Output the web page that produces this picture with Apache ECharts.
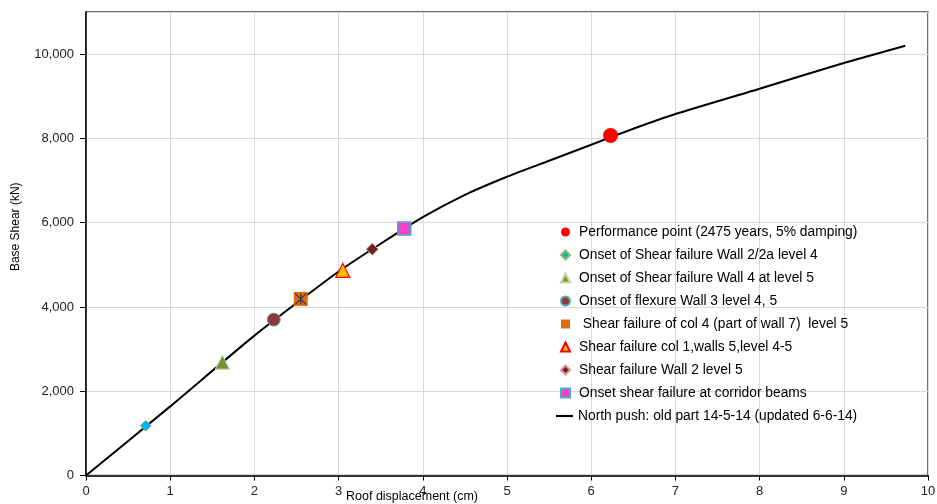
<!DOCTYPE html>
<html lang="en">
<head>
    <meta charset="UTF-8">
    <title>Pushover curve</title>
    <script src="https://cdn.jsdelivr.net/npm/echarts@6/dist/echarts.min.js"></script>
</head>
<body style="margin:0">
<div id="main" style="width: 937px;height:504px;"></div>

<script type="text/javascript">
    // pushover curve (roof displacement cm, base shear kN)
    var curveX = [0, 1, 2, 3, 3.5, 4, 4.5, 5, 5.5, 6, 6.5, 7, 8, 9, 9.73];
    var curveY = [0, 1640, 3320, 4840, 5500, 6130, 6660, 7090, 7470, 7850, 8230, 8580, 9180, 9790, 10200];

    // event points
    var pointNames = [
        'Performance point (2475 years, 5% damping)',
        'Onset of Shear failure Wall 2/2a level 4',
        'Onset of Shear failure Wall 4 at level 5',
        'Onset of flexure Wall 3 level 4, 5',
        ' Shear failure of col 4 (part of wall 7)  level 5',
        'Shear failure col 1,walls 5,level 4-5',
        'Shear failure Wall 2 level 5',
        'Onset shear failure at corridor beams'
    ];
    var pointX = [6.23, 0.71, 1.62, 2.23, 2.55, 3.05, 3.40, 3.78];
    var pointY = [8070, 1180, 2690, 3700, 4190, 4870, 5370, 5860];
    var lineName = 'North push: old part 14-5-14 (updated 6-6-14)';

    var xTicks = [0, 1, 2, 3, 4, 5, 6, 7, 8, 9, 10];
    var yTicks = [0, 2000, 4000, 6000, 8000, 10000];

    var myChart = echarts.init(document.getElementById('main'));

    var curveData = curveX.map(function (x, i) { return [x, curveY[i]]; });

    // marker styles, same order as pointNames
    var marks = [
        {symbol: 'circle', size: 15, color: '#ff0000', border: '#ff0000', bw: 0},
        {symbol: 'diamond', size: 11, color: '#00b0f0', border: '#9bbb59', bw: 1},
        {symbol: 'triangle', size: 14, color: '#77933c', border: '#c3d69b', bw: 1},
        {symbol: 'circle', size: 13, color: '#953735', border: '#4bacc6', bw: 1},
        {symbol: 'rect', size: 14, color: '#e36c0a', border: '#e36c0a', bw: 0},
        {symbol: 'triangle', size: 14, color: '#ffc000', border: '#ff0000', bw: 1.2},
        {symbol: 'diamond', size: 12, color: '#632523', border: '#d99694', bw: 1},
        {symbol: 'rect', size: 13, color: '#ee44cc', border: '#4bacc6', bw: 1.5}
    ];

    var series = [{
        name: lineName,
        type: 'line',
        data: curveData,
        symbol: 'none',
        smooth: 0.2,
        lineStyle: {color: '#000', width: 2},
        itemStyle: {color: '#000'},
        z: 2
    }];
    pointNames.forEach(function (n, i) {
        var m = marks[i];
        series.push({
            name: n,
            type: 'scatter',
            data: [[pointX[i], pointY[i]]],
            symbol: m.symbol,
            symbolSize: m.size,
            itemStyle: {color: m.color, borderColor: m.border, borderWidth: m.bw, opacity: 1},
            z: 3
        });
    });
    // asterisk over the col 4 square
    series.push({
        name: 'col4star',
        type: 'scatter',
        data: [[pointX[4], pointY[4]]],
        symbol: 'path://M0,0L10,10M10,0L0,10M5,0L5,10',
        symbolSize: 11,
        itemStyle: {color: 'transparent', borderColor: '#1f2d5a', borderWidth: 1.3},
        silent: true,
        z: 4
    });

    var legendText = {fontSize: 13.8, color: '#000', lineHeight: 16};

    var option = {
        animation: false,
        textStyle: {fontFamily: 'Liberation Sans, Arial, sans-serif'},
        grid: {
            left: 86, right: 9, top: 12, bottom: 28.5, outerBoundsMode: 'none', containLabel: false,
            show: true, borderColor: '#404040', borderWidth: 1.5
        },
        legend: [{
            // marker entries
            data: pointNames,
            orient: 'vertical',
            left: 560,
            top: 224,
            padding: 0,
            itemWidth: 9,
            itemHeight: 9,
            itemGap: 7,
            textStyle: Object.assign({padding: [0, 0, 0, 4]}, legendText)
        }, {
            // curve entry
            data: [{name: lineName, icon: 'path://M0,0L24,0L24,3L0,3Z'}],
            orient: 'vertical',
            left: 556,
            top: 408,
            padding: 0,
            itemWidth: 17,
            itemHeight: 8,
            textStyle: legendText
        }],
        xAxis: {
            type: 'value',
            min: xTicks[0],
            max: xTicks[xTicks.length - 1],
            interval: 1,
            name: 'Roof displacement (cm)',
            nameLocation: 'middle',
            nameGap: 15,
            nameMoveOverlap: false,
            nameTextStyle: {fontSize: 12.5, color: '#000', padding: [0, 190, 0, 0]},
            axisLine: {lineStyle: {color: '#000', width: 1.5}},
            axisTick: {show: true, length: 5, lineStyle: {color: '#000'}},
            axisLabel: {fontSize: 13, color: '#222', margin: 9},
            splitLine: {lineStyle: {color: '#d9d9d9', width: 1}}
        },
        yAxis: {
            type: 'value',
            min: yTicks[0],
            max: 11000,
            interval: 2000,
            name: 'Base Shear (kN)',
            nameLocation: 'middle',
            nameGap: 64,
            nameMoveOverlap: false,
            nameTextStyle: {fontSize: 12, color: '#000', padding: [0, 0, 0, 34]},
            axisLine: {show: true, lineStyle: {color: '#000', width: 1.5}},
            axisTick: {show: true, length: 6, lineStyle: {color: '#000'}},
            axisLabel: {
                fontSize: 13, color: '#222', margin: 12, showMaxLabel: false,
                formatter: function (v) { return v.toLocaleString('en-US'); }
            },
            splitLine: {lineStyle: {color: '#d9d9d9', width: 1}}
        },
        series: series
    };

    myChart.setOption(option);
</script>
</body>
</html>
